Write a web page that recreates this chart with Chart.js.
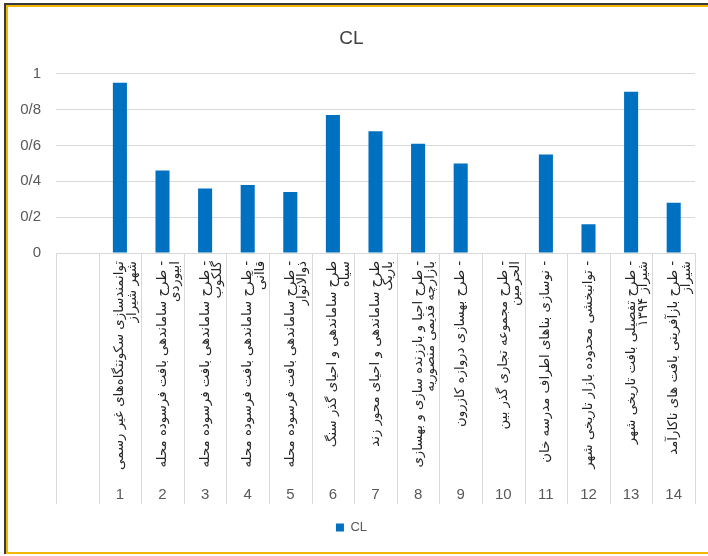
<!DOCTYPE html>
<html>
<head>
<meta charset="utf-8">
<script src="https://cdn.jsdelivr.net/npm/chart.js@4"></script>
<style>
    html, body { margin: 0; padding: 0; background: #fff; overflow: hidden; }
    #frame { position: absolute; left: 4px; top: 3px; width: 704px; height: 551px; border-left: 2px solid #3a3a3a; border-top: 2px solid #3a3a3a; box-sizing: border-box; overflow: hidden; }
    #inner { position: absolute; left: 0; top: 0; right: 0; bottom: 0; border-left: 2px solid #f2b705; border-top: 2px solid #f2b705; border-bottom: 2px solid #f2b705; box-sizing: border-box; background: #fff; }
    #wrap { position: absolute; left: 0; top: 0; width: 700px; height: 545px; }
</style>
</head>
<body>
<div id="frame"><div id="inner"><div id="wrap"><canvas id="chartCanvas" dir="rtl"></canvas></div></div></div>
<script>
// category text (Persian, two lines each), number row and values
const projectNames = [
    [''],
    ['توانمندسازی سکونتگاه‌های غیر رسمی', 'شهر شیراز'],
    ['- طرح ساماندهی بافت فرسوده محله', 'ابیوردی'],
    ['- طرح ساماندهی بافت فرسوده محله', 'گلکوب'],
    ['- طرح ساماندهی بافت فرسوده محله', 'قاآنی'],
    ['- طرح ساماندهی بافت فرسوده محله', 'ذوالانوار'],
    ['طرح ساماندهی و احیای گذر سنگ', 'سیاه'],
    ['طرح ساماندهی و احیای محور زند', 'باریک'],
    ['- طرح احیا و باززنده سازی و بهسازی', 'بازارچه قدیمی منصوریه'],
    ['- طرح بهسازی دروازه کازرون'],
    ['- طرح مجموعه تجاری گذر بین', 'الحرمین'],
    ['- نوسازی بناهای اطراف مدرسه خان'],
    ['- توانبخشی محدوده بازار تاریخی شهر'],
    ['- طرح تفصیلی بافت تاریخی شهر', 'شیراز ۱۳۹۴'],
    ['- طرح بازآفرینی بافت های ناکارآمد', 'شیراز']
];
const projectNumbers = ['', '1', '2', '3', '4', '5', '6', '7', '8', '9', '10', '11', '12', '13', '14'];
const clValues = [null, 0.95, 0.46, 0.36, 0.38, 0.34, 0.77, 0.68, 0.61, 0.50, 0, 0.55, 0.16, 0.90, 0.28];
const yTicks = [0, 0.2, 0.4, 0.6, 0.8, 1];

const gridColor = '#d9d9d9';
const textColor = '#595959';

// vertical separators through both label rows
const separators = {
    id: 'separators',
    afterDraw(c) {
        const x = c.scales.x, x2 = c.scales.x2;
        const n = projectNames.length;
        const ctx = c.ctx;
        ctx.save();
        ctx.strokeStyle = gridColor;
        ctx.lineWidth = 1;
        for (let i = 0; i <= n; i++) {
            const px = Math.round(x.left + i * x.width / n) + 0.5;
            ctx.beginPath();
            ctx.moveTo(px, x.top);
            ctx.lineTo(px, x2.bottom);
            ctx.stroke();
        }
        ctx.restore();
    }
};

const ctx = document.getElementById('chartCanvas').getContext('2d');
new Chart(ctx, {
    type: 'bar',
    data: {
        labels: projectNames,
        datasets: [{
            label: 'CL',
            data: clValues,
            backgroundColor: '#0070c0',
            borderWidth: 0,
            barPercentage: 0.33,
            categoryPercentage: 1
        }]
    },
    options: {
        responsive: true,
        maintainAspectRatio: false,
        animation: false,
        layout: { padding: { left: 0, right: 13, top: 0, bottom: 8 } },
        scales: {
            y: {
                min: 0,
                max: 1,
                afterBuildTicks: s => { s.ticks = yTicks.map(v => ({ value: v })); },
                afterFit: s => { s.width = 48; },
                border: { display: false },
                grid: { color: gridColor, drawTicks: false },
                ticks: {
                    padding: 15,
                    color: textColor,
                    font: { family: 'Liberation Sans', size: 15 },
                    callback: v => String(+v.toFixed(1)).replace('.', '/')
                }
            },
            x: {
                position: 'bottom',
                afterFit: s => { s.height = 224; },
                border: { display: false },
                grid: { display: false },
                ticks: {
                    autoSkip: false,
                    maxRotation: 90,
                    minRotation: 90,
                    padding: 0,
                    color: '#262626',
                    font: { family: 'DejaVu Sans', size: 13.3, lineHeight: 0.95 }
                }
            },
            x2: {
                type: 'category',
                position: 'bottom',
                labels: projectNumbers,
                afterFit: s => { s.height = 27; },
                border: { display: false },
                grid: { display: false },
                ticks: {
                    autoSkip: false,
                    maxRotation: 0,
                    padding: 1,
                    color: textColor,
                    font: { family: 'Liberation Sans', size: 15 }
                }
            }
        },
        plugins: {
            title: {
                display: true,
                text: 'CL',
                color: '#404040',
                font: { family: 'Liberation Sans', size: 19, weight: 'normal' },
                padding: { top: 20, bottom: 24 }
            },
            legend: {
                position: 'bottom',
                labels: {
                    boxWidth: 8,
                    boxHeight: 8,
                    color: textColor,
                    font: { family: 'Liberation Sans', size: 13 },
                    padding: 17
                }
            },
            tooltip: { enabled: false }
        }
    },
    plugins: [separators]
});
</script>
</body>
</html>
